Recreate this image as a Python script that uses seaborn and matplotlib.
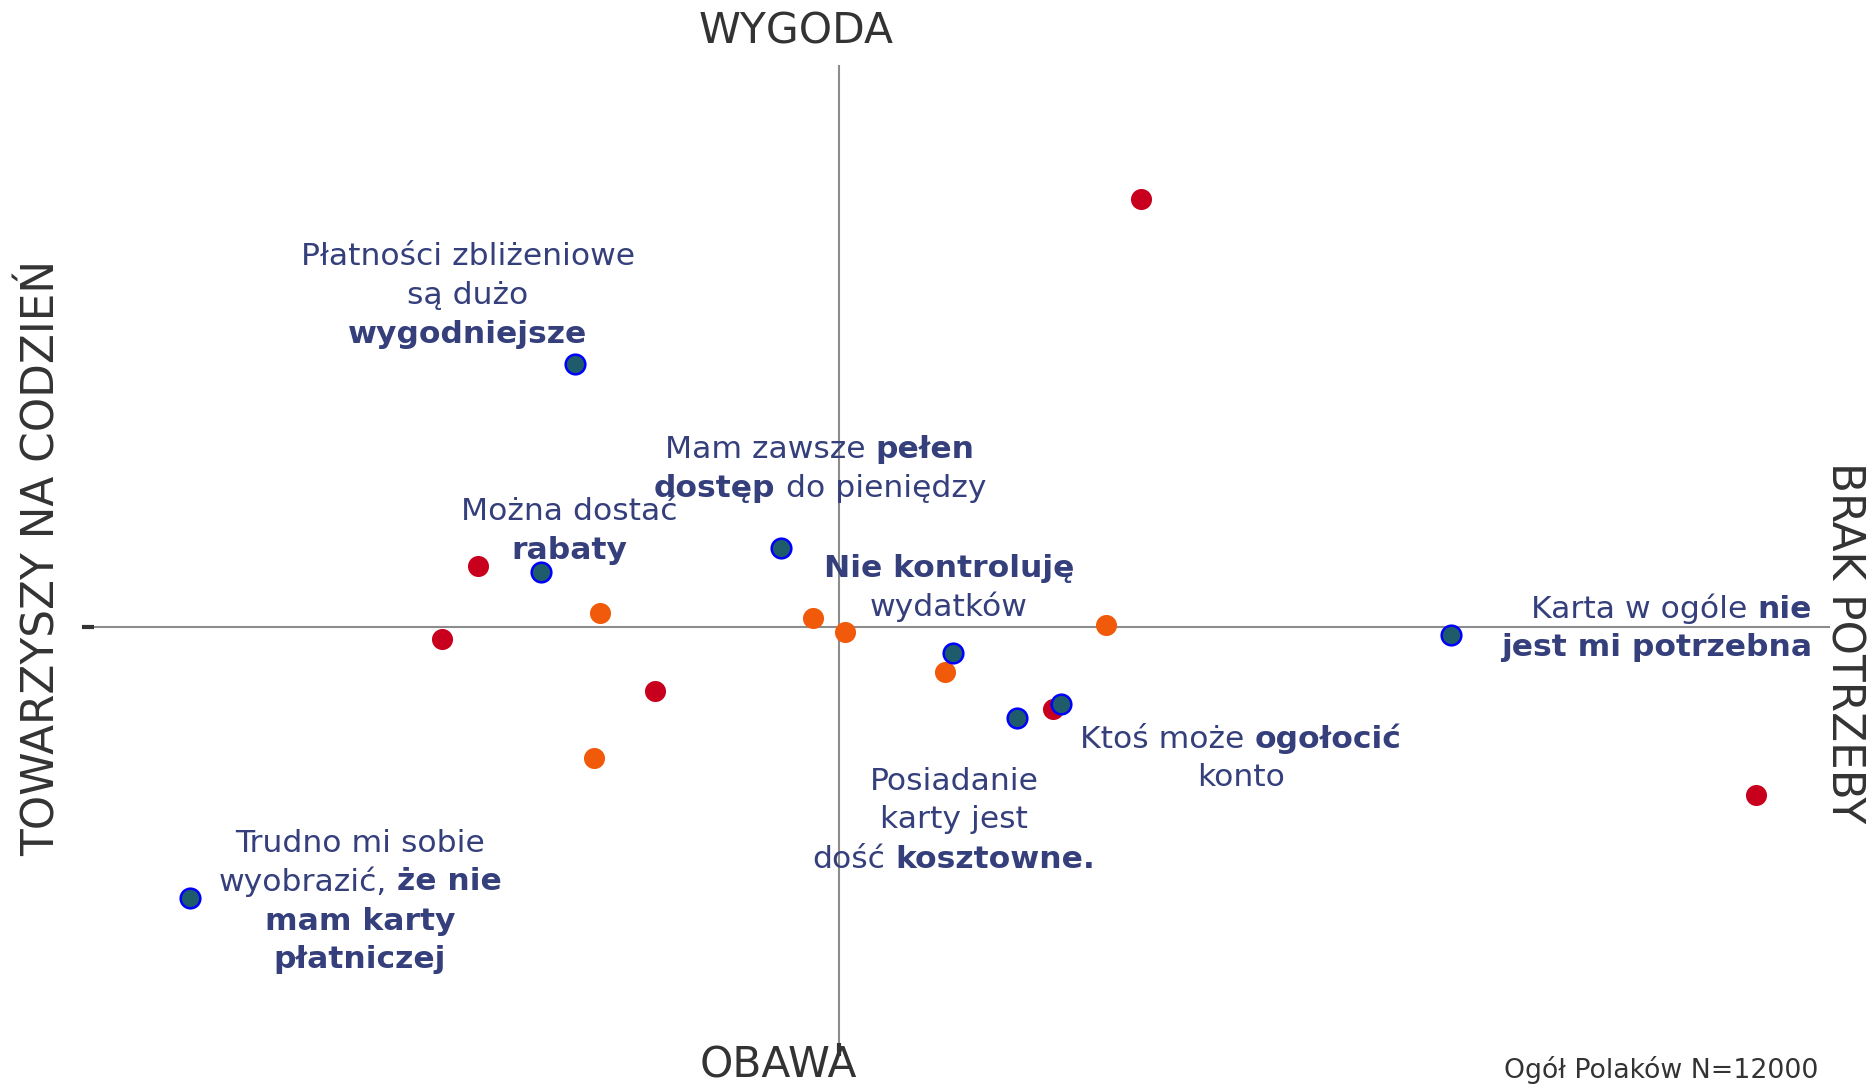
import matplotlib

matplotlib.use("Agg")
import matplotlib.pyplot as plt
import pandas as pd
import seaborn as sns

# perceptual map positions (arbitrary map units)
RED_X = [3.02, -3.61, -3.97, -1.84, 2.14, 9.17]
RED_Y = [4.28, 0.61, -0.12, -0.64, -0.82, -1.68]
ORANGE_X = [-2.39, -0.26, 0.06, 2.67, 1.06, -2.45]
ORANGE_Y = [0.14, 0.09, -0.05, 0.02, -0.45, -1.31]
STATEMENT_X = [-2.64, -2.98, -0.58, 1.14, 1.78, 2.22, 6.12, -6.49]
STATEMENT_Y = [2.63, 0.55, 0.79, -0.26, -0.91, -0.77, -0.08, -2.71]

# statement labels: anchor of first line, alignment, lines (** marks bold)
LABEL_X = [-3.71, -0.19, -2.70, 1.10, 9.73, 4.02, 1.15, -4.79]
LABEL_Y = [3.74, 1.81, 1.19, 0.62, 0.21, -1.09, -1.51, -2.13]
LABEL_HA = ["center", "center", "center", "center", "right", "center", "center", "center"]
LABEL_LINES = [
    ["Płatności zbliżeniowe", "są dużo", "**wygodniejsze**"],
    ["Mam zawsze **pełen**", "**dostęp** do pieniędzy"],
    ["Można dostać", "**rabaty**"],
    ["**Nie kontroluję**", "wydatków"],
    ["Karta w ogóle **nie**", "**jest mi potrzebna**"],
    ["Ktoś może **ogołocić**", "konto"],
    ["Posiadanie", "karty jest", "dość **kosztowne.**"],
    ["Trudno mi sobie", "wyobrazić, **że nie**", "**mam karty**", "**płatniczej**"],
]

X_LIM = (-7.45, 9.91)
Y_LIM = (-4.16, 5.62)

NAVY = "#343F7B"
DARK = "#333333"
LABEL_SIZE = 22.6
LINE_PX = 39


def text_width(ax, renderer, text, bold):
    t = ax.text(0, 0, text, fontsize=LABEL_SIZE, fontweight="bold" if bold else "normal")
    w = t.get_window_extent(renderer).width
    t.remove()
    return w


def draw_label(ax, renderer, x, y, lines, ha):
    space = {b: text_width(ax, renderer, "a a", b) - text_width(ax, renderer, "aa", b) for b in (False, True)}
    for i, line in enumerate(lines):
        pieces = []
        for k, part in enumerate(line.split("**")):
            if not part:
                continue
            bold = k % 2 == 1
            core = part.strip()
            lead = (len(part) - len(part.lstrip())) * space[bold]
            trail = (len(part) - len(part.rstrip())) * space[bold]
            pieces.append((core, bold, lead, text_width(ax, renderer, core, bold), trail))
        total = sum(p[2] + p[3] + p[4] for p in pieces)
        pos = -total / 2 if ha == "center" else -total
        for core, bold, lead, w, trail in pieces:
            pos += lead
            ax.annotate(
                core,
                (x, y),
                xytext=(pos, -i * LINE_PX),
                textcoords="offset pixels",
                ha="left",
                va="center_baseline",
                fontsize=LABEL_SIZE,
                fontweight="bold" if bold else "normal",
                color=NAVY,
            )
            pos += w + trail


def main() -> None:
    sns.set_style("white")
    plt.rcParams["font.family"] = ["DejaVu Sans"]

    fig = plt.figure(figsize=(18.69, 10.85), dpi=100)
    ax = fig.add_axes([94 / 1869, 1 - 1043 / 1085, (1830 - 94) / 1869, (1043 - 65) / 1085])

    red = pd.DataFrame({"x": RED_X, "y": RED_Y})
    orange = pd.DataFrame({"x": ORANGE_X, "y": ORANGE_Y})
    statements = pd.DataFrame({"x": STATEMENT_X, "y": STATEMENT_Y})

    ax.axhline(0, color="#8c8c8c", lw=1.5, zorder=1)
    ax.axvline(0, color="#8c8c8c", lw=1.5, zorder=1)

    sns.scatterplot(data=orange, x="x", y="y", ax=ax, color="#F05A0A", s=230, linewidth=0, zorder=3)
    sns.scatterplot(data=red, x="x", y="y", ax=ax, color="#C8001E", s=230, linewidth=0, zorder=3)
    sns.scatterplot(
        data=statements, x="x", y="y", ax=ax, color="#1F5C6B", edgecolor="#0000FF",
        s=200, linewidth=1.8, zorder=4,
    )

    ax.set_xlim(*X_LIM)
    ax.set_ylim(*Y_LIM)
    ax.set_xticks([0])
    ax.set_yticks([0])
    ax.set_xticklabels([])
    ax.set_yticklabels([])
    ax.tick_params(axis="both", length=9, width=3, color=DARK, direction="out", bottom=True, left=True)
    ax.set_xlabel("")
    ax.set_ylabel("")
    for spine in ax.spines.values():
        spine.set_visible(False)

    renderer = fig.canvas.get_renderer()
    for x, y, ha, lines in zip(LABEL_X, LABEL_Y, LABEL_HA, LABEL_LINES):
        draw_label(ax, renderer, x, y, lines, ha)

    fig.text(796 / 1869, 1 - 31 / 1085, "WYGODA", ha="center", va="center", fontsize=30.5, color=DARK)
    fig.text(778 / 1869, 1 - 1066 / 1085, "OBAWA", ha="center", va="center", fontsize=30.5, color=DARK)
    fig.text(42 / 1869, 1 - 558 / 1085, "TOWARZYSZY NA CODZIEŃ", ha="center", va="center",
             rotation=90, fontsize=31.5, color=DARK)
    fig.text(1844 / 1869, 1 - 643 / 1085, "BRAK POTRZEBY", ha="center", va="center",
             rotation=270, fontsize=31.5, color=DARK)
    fig.text(1818 / 1869, 1 - 1070 / 1085, "Ogół Polaków N=12000", ha="right", va="center",
             fontsize=19.3, color=DARK)

    fig.savefig("out.png", dpi=100)
    plt.close(fig)


if __name__ == "__main__":
    main()
